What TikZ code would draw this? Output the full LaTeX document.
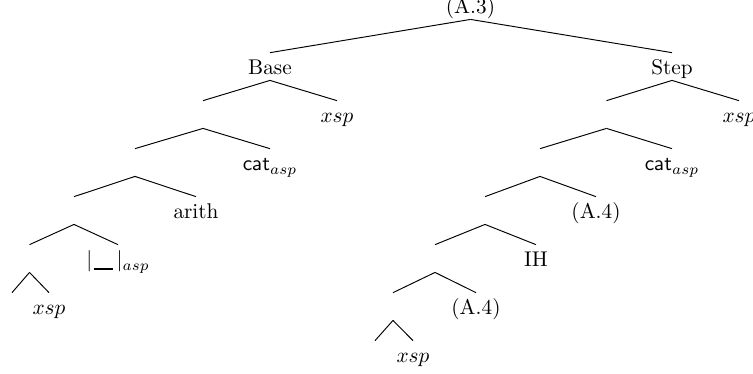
\documentclass[tikz,border=0pt]{standalone}
\begin{document}
\begin{tikzpicture}[x=0.47pt,y=-0.47pt,
  tn/.style={anchor=base,inner sep=0pt,text height=10.3pt,text depth=2.35pt},
  edge/.style={line width=0.45pt}]
\useasboundingbox (0,0) rectangle (753,374);
\node[tn] (root) at (470.5,14) {(A.3)};
\node[tn] (base) at (270,75) {Base};
\node[tn] (step) at (672,75) {Step};
% level 2
\node[tn] (la) at (203,123) {};
\node[tn] (lx) at (337,123) {$xsp$};
\node[tn] (ra) at (606.5,123) {};
\node[tn] (rx) at (739,123) {$xsp$};
% level 3
\node[tn] (lb) at (135,171) {};
\node[tn] (lcat) at (270,171) {$\mathsf{cat}_{asp}$};
\node[tn] (rb) at (540,171) {};
\node[tn] (rcat) at (672,171) {$\mathsf{cat}_{asp}$};
% level 4
\node[tn] (lc) at (74,219) {};
\node[tn] (arith) at (196,219) {arith};
\node[tn] (rc) at (485,219) {};
\node[tn] (ra4) at (596,219) {(A.4)};
% level 5
\node[tn] (ld) at (29.5,267) {};
\node[tn] (blank) at (118,267) {$|\kern1pt\rule[-1.2pt]{9pt}{0.8pt}\kern1.5pt|_{asp}$};
\node[tn] (rd) at (435,267) {};
\node[tn] (ih) at (536,267) {IH};
% level 6
\node[tn] (le) at (12,315) {};
\node[tn] (lxsp) at (49,315) {$xsp$};
\node[tn] (re) at (393,315) {};
\node[tn] (ra4b) at (476,315) {(A.4)};
% level 7
\node[tn] (rf) at (375,363) {};
\node[tn] (rxsp) at (413,363) {$xsp$};
\foreach \p/\c in {root/base, root/step,
  base/la, base/lx, step/ra, step/rx,
  la/lb, la/lcat, ra/rb, ra/rcat,
  lb/lc, lb/arith, rb/rc, rb/ra4,
  lc/ld, lc/blank, rc/rd, rc/ih,
  ld/le, ld/lxsp, rd/re, rd/ra4b,
  re/rf, re/rxsp}
  \draw[edge] (\p.south) -- (\c.north);
\end{tikzpicture}
\end{document}
